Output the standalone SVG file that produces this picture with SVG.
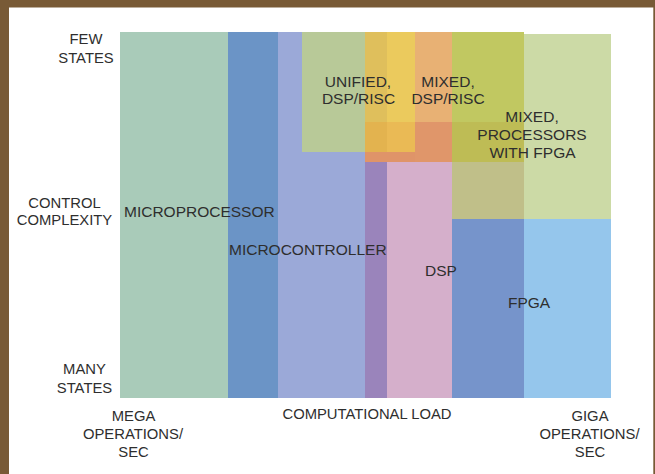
<svg xmlns="http://www.w3.org/2000/svg" width="655" height="474" viewBox="0 0 655 474">
  <style>
    text { font-family: "Liberation Sans", Arial, sans-serif; fill: #2e2e2e; }
    .axis { font-size: 14.8px; text-anchor: middle; }
    .lbl { font-size: 15.5px; }
    .mid { text-anchor: middle; }
  </style>
  <!-- frame -->
  <rect x="0" y="0" width="655" height="474" fill="#785a36"/>
  <rect x="9" y="7.5" width="644.3" height="466.5" fill="#ffffff"/>

  <!-- regions -->
  <g id="microprocessor">
    <rect x="120" y="32" width="108" height="366" fill="#a9cbb9"/>
  </g>

  <g id="microcontroller">
    <rect x="228" y="32" width="50" height="366" fill="#6b94c6"/>
    <rect x="278" y="32" width="87" height="366" fill="#9ba9d8"/>
  </g>

  <g id="unified-dsp-risc">
    <rect x="302" y="32" width="63" height="120" fill="#b8c998"/>
    <rect x="365" y="32" width="22" height="90" fill="#dfbf5c"/>
    <rect x="365" y="122" width="22" height="30" fill="#e3b34f"/>
    <rect x="387" y="32" width="28" height="90" fill="#ebca5d"/>
    <rect x="387" y="122" width="28" height="30" fill="#eaba55"/>
  </g>

  <g id="mixed-dsp-risc">
    <rect x="415" y="32" width="37" height="90" fill="#e8b174"/>
    <rect x="415" y="122" width="37" height="40" fill="#e0966a"/>
    <rect x="365" y="152" width="50" height="10" fill="#df9469"/>
  </g>

  <g id="dsp">
    <rect x="365" y="162" width="22" height="236" fill="#9a84bb"/>
    <rect x="387" y="162" width="65" height="236" fill="#d5afcb"/>
  </g>

  <g id="mixed-processors-fpga">
    <rect x="452" y="32" width="72" height="90" fill="#c1c861"/>
    <rect x="452" y="122" width="72" height="40" fill="#bebc55"/>
    <rect x="452" y="162" width="72" height="57" fill="#c0bf89"/>
    <rect x="524" y="34" width="87" height="185" fill="#ccdaa6"/>
  </g>

  <g id="fpga">
    <rect x="452" y="219" width="72" height="179" fill="#7694cb"/>
    <rect x="524" y="219" width="87" height="179" fill="#95c6ec"/>
  </g>

  <!-- region labels, kept above all fills -->
  <g id="region-labels">
    <text class="lbl" x="124" y="217">MICROPROCESSOR</text>
    <text class="lbl" x="229" y="255">MICROCONTROLLER</text>
    <text class="lbl mid" x="358" y="87">UNIFIED,</text>
    <text class="lbl mid" x="358.5" y="104">DSP/RISC</text>
    <text class="lbl mid" x="448" y="87">MIXED,</text>
    <text class="lbl mid" x="448" y="104">DSP/RISC</text>
    <text class="lbl" x="425" y="276">DSP</text>
    <text class="lbl mid" x="532" y="122">MIXED,</text>
    <text class="lbl mid" x="532" y="140">PROCESSORS</text>
    <text class="lbl mid" x="532.5" y="158">WITH FPGA</text>
    <text class="lbl" x="508" y="308">FPGA</text>
  </g>

  <!-- axis labels -->
  <g id="axis-labels">
    <text class="axis" x="86" y="44">FEW</text>
    <text class="axis" x="86" y="63">STATES</text>
    <text class="axis" x="64.5" y="207.5">CONTROL</text>
    <text class="axis" x="64.5" y="225">COMPLEXITY</text>
    <text class="axis" x="84.5" y="374">MANY</text>
    <text class="axis" x="84.5" y="393">STATES</text>
    <text class="axis" x="133.5" y="421">MEGA</text>
    <text class="axis" x="133" y="439">OPERATIONS/</text>
    <text class="axis" x="133.5" y="457">SEC</text>
    <text class="axis" x="367" y="419">COMPUTATIONAL LOAD</text>
    <text class="axis" x="590" y="421">GIGA</text>
    <text class="axis" x="589.5" y="439">OPERATIONS/</text>
    <text class="axis" x="590" y="457">SEC</text>
  </g>
</svg>
